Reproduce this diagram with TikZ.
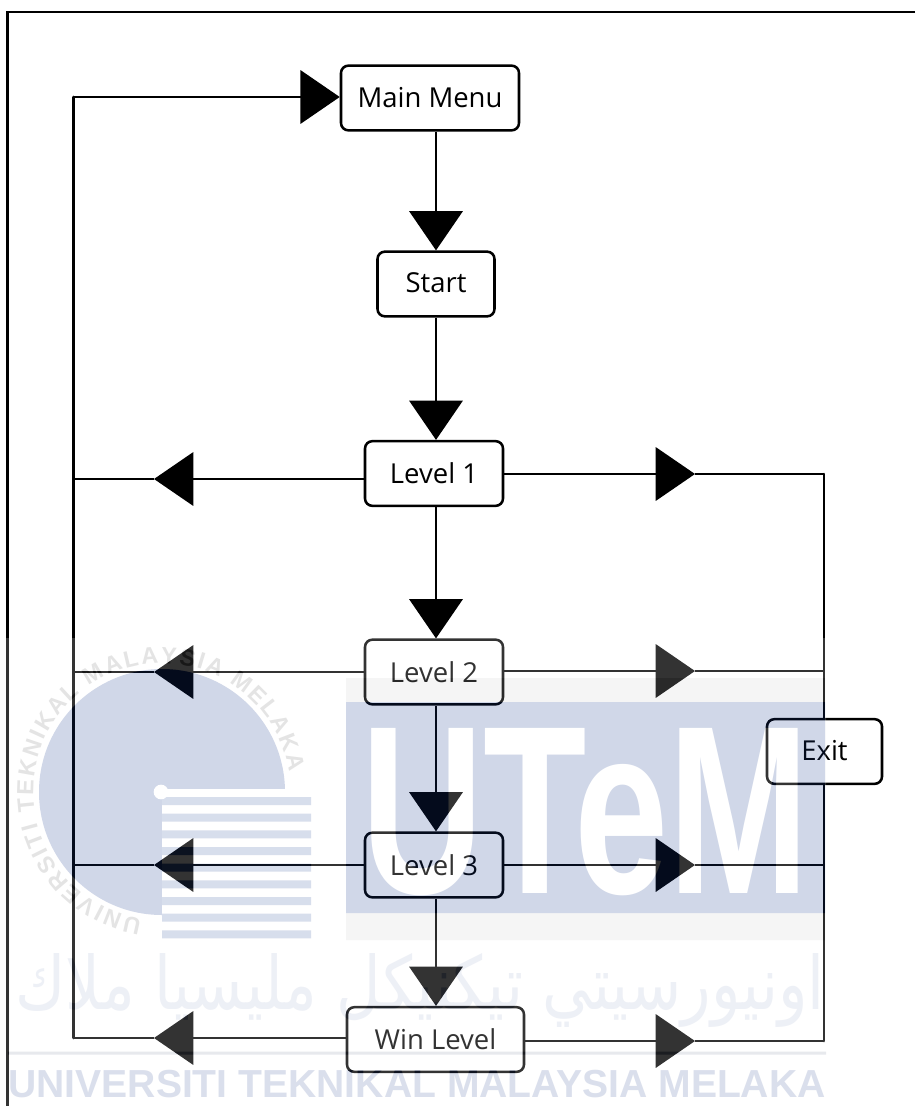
\documentclass[tikz,border=0pt]{standalone}
\usepackage{fontspec}
\usepackage{graphicx}
\setmainfont{Open Sans}
\newfontfamily\wmfont{Liberation Sans}
\newfontfamily\arabicfont[Script=Arabic]{DejaVu Sans}
\TeXXeTstate=1
\usetikzlibrary{arrows.meta,decorations.text}
\definecolor{wmblue}{HTML}{14378C}
\definecolor{wmstripe}{HTML}{3A5AA0}
\definecolor{wmband}{HTML}{CDCDCD}
\definecolor{wmring}{HTML}{787878}
\definecolor{wmtext}{HTML}{4A62A0}
\definecolor{wmarab}{HTML}{A8B4D2}
\definecolor{wmrule}{HTML}{8A92A8}
\tikzset{
  box/.style={draw=black,fill=white,rounded corners=5.5pt,line width=1.9pt,
    minimum height=48.5pt,inner sep=0pt,font=\fontsize{20.6}{24}\selectfont,text=black},
  flow/.style={draw=black,line width=2pt},
  headed/.style={flow,-{Triangle[length=29.5pt,width=40pt,sep=0pt]}}
}
\begin{document}
\begin{tikzpicture}[x=0.75pt,y=-0.75pt]
\useasboundingbox (0,0) rectangle (915,1106);
\fill[white] (0,0) rectangle (915,1106);
\draw[black,line width=2.2pt] (915,12) -- (7.5,12) -- (7.5,1106);

% nodes
\node[box,minimum width=133.5pt] (M) at (430,98) {\raisebox{-2pt}{Main Menu}};
\node[box,minimum width=87.75pt] (S) at (436,284) {\raisebox{2pt}{Start}};
\node[box,minimum width=103.5pt] (L1) at (434,473.5) {Level 1};
\node[box,minimum width=103.5pt] (L2) at (434,672) {Level 2};
\node[box,minimum width=103.5pt] (L3) at (434,865) {Level 3};
\node[box,minimum width=132.75pt] (W) at (435.5,1039.5) {Win Level};
\coordinate (TL0) at (73.5,97);
\coordinate (TL1) at (73.5,479);
\coordinate (TL2) at (73.5,672);
\coordinate (TL3) at (73.5,865);
\coordinate (TL4) at (73.5,1038);
\coordinate (TR1) at (824,474);
\coordinate (TR2) at (824,671);
\coordinate (TR3) at (824,865);
\coordinate (TR4) at (824,1041);
\coordinate (AL1) at (154,479);
\coordinate (AL2) at (154,672);
\coordinate (AL3) at (154,865);
\coordinate (AL4) at (154,1038);
\coordinate (AR1) at (695,474);
\coordinate (AR2) at (695,671);
\coordinate (AR3) at (695,865);
\coordinate (AR4) at (695,1041);

% trunks
\draw[flow,line cap=round] (TL4) -- (TL0);
\draw[flow,line cap=round] (TR1) -- (TR4);
\node[box,minimum width=86.25pt] (E) at (824.5,751.5) {\raisebox{2pt}{Exit}};
\draw[headed] (TL0) -- (M.west |- TL0);

% down connectors
\draw[headed] (S.north |- M.south) -- (S.north);
\draw[headed] (S.south) -- (S.south |- L1.north);
\draw[headed] (S.south |- L1.south) -- (S.south |- L2.north);
\draw[headed] (S.south |- L2.south) -- (S.south |- L3.north);
\draw[headed] (S.south |- L3.south) -- (S.south |- W.north);

% side connectors
\draw[headed] (L1.west |- AL1) -- (AL1);
\draw[flow] (AL1) -- (TL1);
\draw[headed] (L2.west) -- (AL2);
\draw[flow] (AL2) -- (TL2);
\draw[headed] (L3.west) -- (AL3);
\draw[flow] (AL3) -- (TL3);
\draw[headed] (W.west |- AL4) -- (AL4);
\draw[flow] (AL4) -- (TL4);
\draw[headed] (L1.east |- AR1) -- (AR1);
\draw[flow] (AR1) -- (TR1);
\draw[headed] (L2.east |- AR2) -- (AR2);
\draw[flow] (AR2) -- (TR2);
\draw[headed] (L3.east) -- (AR3);
\draw[flow] (AR3) -- (TR3);
\draw[headed] (W.east |- AR4) -- (AR4);
\draw[flow] (AR4) -- (TR4);

% translucent watermark
\begin{scope}[transparency group,opacity=0.2]
  \fill[white] (0,638) rectangle (826,1106);
  \fill[wmblue] (162,792) circle[radius=92.25pt];
  \fill[white] (162,789) rectangle (311,938);
  \foreach \k in {0,...,8} {
    \fill[wmstripe] (162,{797+16.67*\k}) rectangle (311,{805+16.67*\k});
  }
  \fill[white] (161,792) circle[radius=5.5pt];
  \fill[wmband] (346,678) rectangle (825,940);
  \fill[wmblue] (346,702) rectangle (825,913);
  \node[anchor=base,inner sep=0pt,text=white] (wmU) at (585.5,893)
    {\scalebox{0.705}[1]{\fontsize{180}{180}\wmfont\bfseries UTeM}};
  \path[decorate,decoration={text along path,text align={fit to path},
      text={|\fontsize{17.5}{17.5}\wmfont\bfseries\color{wmring}|UNIVERSITI TEKNIKAL MALAYSIA MELAKA}}]
    (162,792) ++(261:96.5pt) arc[start angle=261,end angle=9,radius=96.5pt];
  \node[inner sep=0pt,text=wmarab] (wmA) at (420,990)
    {\resizebox{607pt}{42pt}{\arabicfont\beginR اونيورسيتي تيكنيكل مليسيا ملاك\endR}};
  \fill[wmrule] (8,1051.5) rectangle (826,1054.5);
  \node[inner sep=0pt,anchor=base,text=wmtext] (wmT) at (417,1097)
    {\resizebox{613pt}{!}{\fontsize{28}{28}\wmfont\bfseries UNIVERSITI TEKNIKAL MALAYSIA MELAKA}};
\end{scope}
\end{tikzpicture}
\end{document}
